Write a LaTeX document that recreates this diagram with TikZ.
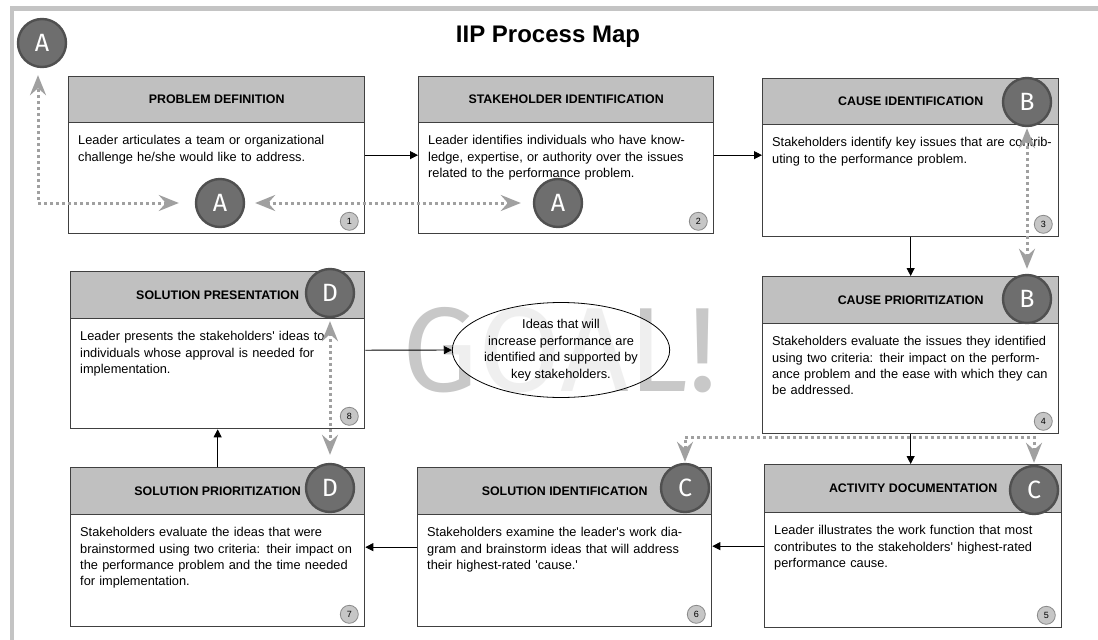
\documentclass[tikz,border=0pt]{standalone}
\usepackage{fontspec}
\setmainfont{Liberation Sans}
\newfontfamily\badgefont{Fira Sans}
\newfontfamily\goalfont{Fira Sans}
\usetikzlibrary{arrows.meta,shapes.geometric}
\definecolor{framegray}{HTML}{C4C4C4}
\definecolor{headgray}{HTML}{C0C0C0}
\definecolor{boxline}{HTML}{404040}
\definecolor{badgefill}{HTML}{6E6E6E}
\definecolor{badgeline}{HTML}{505050}
\definecolor{dotgray}{HTML}{A0A0A0}
\definecolor{numfill}{HTML}{C6C6C6}
\definecolor{numline}{HTML}{8A8A8A}
\definecolor{goalgray}{HTML}{C8C8C8}
\newcommand\q{\textquotesingle}
\newcommand\ProcBox[9]{%
  \node[procbox, minimum width=#4pt, minimum height=#5pt] (#1) at (#2,#3) {};
  \node[headbox, minimum width=#4pt, minimum height=#6pt] (#1h) at (#1.north west) {#7};
  \node[bodytext] (#1t) at ([shift={(10,12)}]#1h.south west) {#8};
  \node[numbadge] (#1n) at ([shift={(-16,-13)}]#1.south east) {#9};
}
\begin{document}
\begin{tikzpicture}[x=1pt,y=-1pt,
  procbox/.style={draw=boxline, line width=1.3pt, fill=white, inner sep=0pt, anchor=north west},
  headbox/.style={draw=boxline, line width=1.3pt, fill=headgray, inner sep=0pt, anchor=north west, font=\fontsize{12.4}{14}\selectfont\bfseries},
  bodytext/.style={inner sep=0pt, anchor=north west, text width=282pt, align=left, font=\fontsize{12.8}{16.3}\selectfont},
  letterbadge/.style={circle, draw=badgeline, line width=2.4pt, fill=badgefill, minimum size=48pt, inner sep=0pt, text=white, font=\badgefont\fontsize{25}{25}\selectfont},
  numbadge/.style={circle, draw=numline, line width=0.8pt, fill=numfill, minimum size=18pt, inner sep=0pt, font=\fontsize{9}{9}\selectfont},
  flow/.style={draw=black, line width=0.8pt, -{Triangle[length=8pt,width=8pt]}},
  link/.style={draw=dotgray, line width=3pt, dash pattern=on 3pt off 3pt, {Stealth[length=20pt,width=16pt,inset=7pt]}-{Stealth[length=20pt,width=16pt,inset=7pt]}},
]
\useasboundingbox (0,0) rectangle (1098,640);
\fill[white] (0,0) rectangle (1098,640);
% frame
\fill[framegray] (10,6) rectangle (1098,11);
\fill[framegray] (10,6) rectangle (14,640);
% title
\node[font=\fontsize{24}{24}\selectfont\bfseries] (title) at (548,37) {IIP Process Map};
% goal word
\node[font=\goalfont\fontsize{120}{120}\selectfont, text=goalgray, inner sep=0pt] (goalword) at (560,350) {GOAL!};
% boxes
\ProcBox{b1}{68}{76}{296}{157}{46}{PROBLEM DEFINITION}{Leader articulates a team or organizational\\challenge he/she would like to address.}{1}
\ProcBox{b2}{418}{76}{295}{157}{46}{STAKEHOLDER IDENTIFICATION}{Leader identifies individuals who have know-\\ledge, expertise, or authority over the issues\\related to the performance problem.}{2}
\ProcBox{b3}{762}{78}{296}{158}{46}{CAUSE IDENTIFICATION}{Stakeholders identify key issues that are contrib-\\uting to the performance problem.}{3}
\ProcBox{b4}{762}{276}{296}{157}{47}{CAUSE PRIORITIZATION}{Stakeholders evaluate the issues they identified\\using two criteria: their impact on the perform-\\ance problem and the ease with which they can\\be addressed.}{4}
\ProcBox{b5}{764}{464}{297}{163}{48}{ACTIVITY DOCUMENTATION}{Leader illustrates the work function that most\\contributes to the stakeholders\q{} highest-rated\\performance cause.}{5}
\ProcBox{b6}{417}{467}{294}{159}{47}{SOLUTION IDENTIFICATION}{Stakeholders examine the leader\q{}s work dia-\\gram and brainstorm ideas that will address\\their highest-rated \q{}cause.\q{}}{6}
\ProcBox{b7}{70}{467}{294}{159}{47}{SOLUTION PRIORITIZATION}{Stakeholders evaluate the ideas that were\\brainstormed using two criteria: their impact on\\the performance problem and the time needed\\for implementation.}{7}
\ProcBox{b8}{70}{271}{294}{157}{47}{SOLUTION PRESENTATION}{Leader presents the stakeholders\q{} ideas to\\individuals whose approval is needed for\\implementation.}{8}
% goal ellipse
\node[ellipse, draw=black, line width=0.8pt, fill=white, fill opacity=0.72, text opacity=1, draw opacity=1, minimum width=176pt, minimum height=95pt, inner sep=0pt, align=center, font=\fontsize{12.8}{16.5}\selectfont] (goal) at (561,350) {Ideas that will\\increase performance are\\identified and supported by\\key stakeholders.};
% flow arrows
\draw[flow] (b1.east) -- (b1.east -| b2.west);
\draw[flow] (b2.east) -- (b2.east -| b3.west);
\draw[flow] (b3.south) -- (b3.south |- b4.north);
\draw[flow] (b4.south) -- (b4.south |- b5.north);
\draw[flow] (b5.west) -- (b5.west -| b6.east);
\draw[flow] (b6.west) -- (b6.west -| b7.east);
\draw[flow] (b7.north) -- (b7.north |- b8.south);
\draw[flow] (b8.east) -- (goal);
% letter badges
\node[letterbadge] (a0) at (42,43) {A};
\node[letterbadge] (a1) at (220,203) {A};
\node[letterbadge] (a2) at (558,203) {A};
\node[letterbadge] (b3a) at (1027,102) {B};
\node[letterbadge] (b4a) at (1027,299) {B};
\node[letterbadge] (d8a) at (330,293) {D};
\node[letterbadge] (d7a) at (330,488) {D};
\node[letterbadge] (c6a) at (685,488) {C};
\node[letterbadge] (c5a) at (1034,490) {C};
% dotted links
\draw[link, shorten <=16pt, shorten >=7pt] (a1) -| ([xshift=-4pt]a0.south);
\draw[link, shorten <=10pt, shorten >=12pt] (a1) -- (a2);
\draw[link, shorten <=1pt, shorten >=5pt] (b3a) -- (b4a);
\draw[link, shorten <=3pt, shorten >=8pt] (d8a) -- (d7a);
\coordinate (cbend) at (860,437);
\draw[link, shorten <=2pt, shorten >=1pt] (c5a) |- (cbend) -| (c6a);
\end{tikzpicture}
\end{document}
